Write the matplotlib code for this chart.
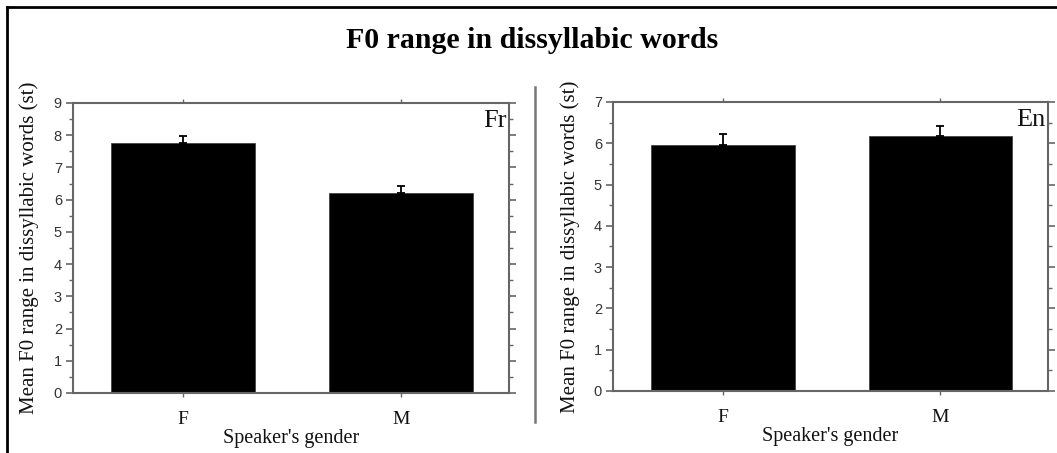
import matplotlib
matplotlib.use("Agg")
import matplotlib.pyplot as plt
from matplotlib.lines import Line2D
from matplotlib.ticker import MultipleLocator

categories = ["F", "M"]
fr_means = [7.75, 6.2]
fr_errs = [0.23, 0.23]
en_means = [5.96, 6.17]
en_errs = [0.26, 0.26]
title = "F0 range in dissyllabic words"
ylabel = "Mean F0 range in dissyllabic words (st)"
xlabel = "Speaker's gender"

W, H = 1057, 453
fig = plt.figure(figsize=(W / 100, H / 100), dpi=100)
fig.patch.set_facecolor("white")

serif = ["Liberation Serif", "DejaVu Serif"]
sans = ["Liberation Sans", "DejaVu Sans"]
spine_col = "#666666"


def make_panel(rect, means, errs, ymax, tag):
    ax = fig.add_axes(rect)
    x = list(range(len(categories)))
    ax.bar(x, means, width=0.66, color="black", edgecolor="#444444", linewidth=0.6, zorder=2)
    ax.errorbar(x, means, yerr=[[0] * len(errs), errs], fmt="none", ecolor="black",
                elinewidth=1.3, capsize=3, capthick=1.3, zorder=3)
    ax.set_xlim(-0.505, 1.495)
    ax.set_ylim(0, ymax)
    ax.set_xticks(x)
    ax.set_xticklabels(categories, fontfamily=serif, fontsize=14, color="#111111")
    ax.yaxis.set_major_locator(MultipleLocator(1))
    ax.yaxis.set_minor_locator(MultipleLocator(0.5))
    for lab in ax.get_yticklabels():
        lab.set_fontfamily(sans)
        lab.set_fontsize(10.5)
        lab.set_color("#333333")
    ax.tick_params(axis="y", which="major", direction="out", length=5, width=1.2,
                   color=spine_col, right=True, left=True, pad=3)
    ax.tick_params(axis="y", which="minor", direction="out", length=3, width=1.0,
                   color=spine_col, right=True, left=True)
    ax.tick_params(axis="x", which="major", direction="out", length=3, width=1.0,
                   color=spine_col, top=True, bottom=True, pad=10)
    for s in ax.spines.values():
        s.set_color(spine_col)
        s.set_linewidth(1.5)
    ax.set_ylabel(ylabel, fontfamily=serif, fontsize=15, color="#111111")
    ax.yaxis.set_label_coords(-0.077, 0.5)
    ax.set_xlabel(xlabel, fontfamily=serif, fontsize=14.5, color="#111111", labelpad=1)
    ax.text(0.995, 0.975, tag, transform=ax.transAxes, ha="right", va="top",
            fontfamily=serif, fontsize=19, color="#111111")
    return ax


ax1 = make_panel([73 / W, (H - 393) / H, 436 / W, 290 / H], fr_means, fr_errs, 9, "Fr")
ax2 = make_panel([613 / W, (H - 391) / H, 435 / W, 289 / H], en_means, en_errs, 7, "En")

fig.text(532 / W, 1 - 40 / H, title, ha="center", va="center", fontfamily=serif,
         fontsize=21.5, fontweight="bold", color="black")

# separator line
fig.add_artist(Line2D([535 / W, 535 / W], [1 - 87 / H, 1 - 422 / H], color="#777777",
                      linewidth=1.8, transform=fig.transFigure))
# frame lines (top and left)
fig.add_artist(Line2D([7 / W, 1.0], [1 - 7 / H, 1 - 7 / H], color="black",
                      linewidth=2.0, transform=fig.transFigure))
fig.add_artist(Line2D([7 / W, 7 / W], [1 - 7 / H, 0], color="black",
                      linewidth=2.0, transform=fig.transFigure))

fig.savefig("out.png", dpi=100)
